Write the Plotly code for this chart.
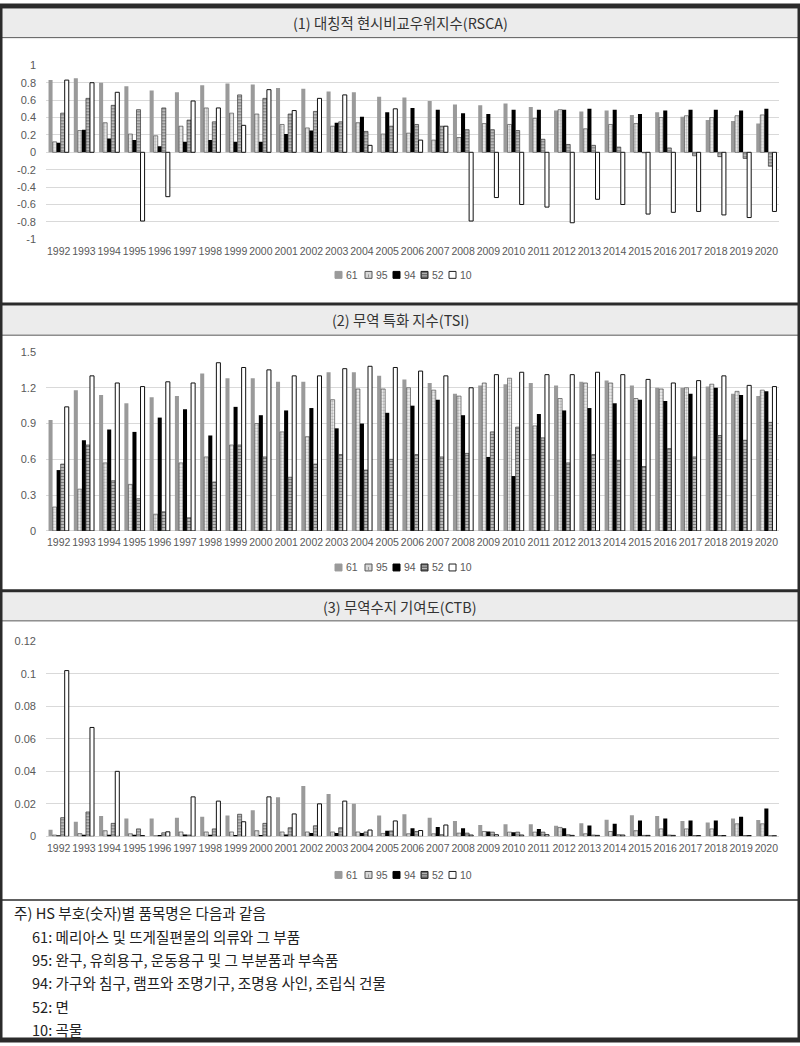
import plotly.graph_objects as go

# ---------------- data ----------------
YEARS = ["1992", "1993", "1994", "1995", "1996", "1997", "1998", "1999", "2000",
         "2001", "2002", "2003", "2004", "2005", "2006", "2007", "2008", "2009",
         "2010", "2011", "2012", "2013", "2014", "2015", "2016", "2017", "2018",
         "2019", "2020"]
SERIES_NAMES = ["61", "95", "94", "52", "10"]

RSCA_61 = [0.83, 0.85, 0.80, 0.76, 0.71, 0.69, 0.77, 0.79, 0.78, 0.74, 0.73, 0.70, 0.69, 0.64,
           0.63, 0.59, 0.55, 0.54, 0.56, 0.52, 0.48, 0.47, 0.48, 0.43, 0.46, 0.41, 0.37, 0.36, 0.33]
RSCA_95 = [0.12, 0.25, 0.34, 0.21, 0.19, 0.30, 0.51, 0.45, 0.44, 0.32, 0.28, 0.30, 0.34, 0.21,
           0.22, 0.14, 0.17, 0.33, 0.32, 0.39, 0.49, 0.27, 0.32, 0.33, 0.40, 0.42, 0.40, 0.42, 0.43]
RSCA_94 = [0.11, 0.26, 0.16, 0.14, 0.07, 0.12, 0.14, 0.12, 0.12, 0.21, 0.25, 0.34, 0.41, 0.46,
           0.51, 0.49, 0.45, 0.44, 0.49, 0.49, 0.49, 0.50, 0.49, 0.44, 0.48, 0.49, 0.49, 0.48, 0.50]
RSCA_52 = [0.45, 0.62, 0.54, 0.49, 0.51, 0.37, 0.35, 0.66, 0.62, 0.44, 0.47, 0.35, 0.24, 0.30,
           0.32, 0.30, 0.26, 0.26, 0.25, 0.15, 0.09, 0.08, 0.06, -0.005, 0.05, -0.04, -0.05, -0.07, -0.16]
RSCA_10 = [0.83, 0.80, 0.69, -0.79, -0.51, 0.59, 0.51, 0.31, 0.72, 0.48, 0.62, 0.66, 0.08, 0.50,
           0.14, 0.30, -0.79, -0.52, -0.60, -0.63, -0.81, -0.54, -0.60, -0.71, -0.69, -0.68, -0.72, -0.75, -0.68]

TSI_61 = [0.93, 1.18, 1.14, 1.07, 1.12, 1.13, 1.32, 1.28, 1.28, 1.25, 1.25, 1.33, 1.33, 1.30,
          1.27, 1.24, 1.15, 1.22, 1.23, 1.24, 1.22, 1.25, 1.26, 1.22, 1.20, 1.20, 1.21, 1.15, 1.13]
TSI_95 = [0.20, 0.35, 0.57, 0.39, 0.14, 0.57, 0.62, 0.72, 0.90, 0.83, 0.79, 1.10, 1.19, 1.19,
          1.20, 1.18, 1.13, 1.24, 1.28, 0.88, 1.11, 1.24, 1.24, 1.11, 1.19, 1.20, 1.23, 1.17, 1.18]
TSI_94 = [0.51, 0.76, 0.85, 0.83, 0.95, 1.02, 0.80, 1.04, 0.97, 1.01, 1.03, 0.86, 0.90, 0.99,
          1.05, 1.10, 0.97, 0.62, 0.46, 0.98, 1.01, 1.03, 1.07, 1.10, 1.09, 1.15, 1.20, 1.14, 1.17]
TSI_52 = [0.56, 0.72, 0.42, 0.27, 0.16, 0.11, 0.41, 0.72, 0.62, 0.45, 0.56, 0.64, 0.51, 0.60,
          0.64, 0.62, 0.65, 0.83, 0.87, 0.78, 0.57, 0.64, 0.59, 0.54, 0.69, 0.62, 0.80, 0.76, 0.91]
TSI_10 = [1.04, 1.30, 1.24, 1.21, 1.25, 1.24, 1.41, 1.37, 1.35, 1.30, 1.30, 1.36, 1.38, 1.37,
          1.34, 1.30, 1.20, 1.31, 1.33, 1.31, 1.31, 1.33, 1.31, 1.27, 1.24, 1.26, 1.30, 1.22, 1.21]

CTB_61 = [0.004, 0.009, 0.0126, 0.011, 0.011, 0.0115, 0.012, 0.0128, 0.016, 0.024, 0.031, 0.026,
          0.020, 0.0128, 0.0136, 0.0115, 0.0095, 0.007, 0.0075, 0.0075, 0.0065, 0.008, 0.0103,
          0.013, 0.0126, 0.0095, 0.0085, 0.011, 0.010]
CTB_95 = [0.0008, 0.0017, 0.0035, 0.0016, 0.0004, 0.0027, 0.0027, 0.0027, 0.0035, 0.0027, 0.0027,
          0.0027, 0.0027, 0.0018, 0.0016, 0.0016, 0.002, 0.003, 0.0026, 0.0026, 0.0055, 0.0016,
          0.003, 0.0035, 0.0046, 0.0046, 0.0046, 0.0077, 0.0077]
CTB_94 = [0.0003, 0.001, 0.001, 0.001, 0.0008, 0.0012, 0.001, 0.0008, 0.0008, 0.0012, 0.002, 0.002,
          0.002, 0.0035, 0.005, 0.0057, 0.005, 0.003, 0.0026, 0.0046, 0.005, 0.0067, 0.0077,
          0.0097, 0.011, 0.0097, 0.0097, 0.012, 0.0172]
CTB_52 = [0.0115, 0.015, 0.008, 0.0046, 0.0022, 0.0008, 0.0046, 0.0136, 0.008, 0.0053, 0.0065,
          0.0053, 0.0027, 0.0033, 0.003, 0.001, 0.002, 0.0026, 0.0026, 0.0026, 0.001, 0.0008,
          0.001, 0.0006, 0.0008, 0.0005, 0.0005, 0.0005, 0.0004]
CTB_10 = [0.102, 0.067, 0.040, 0.0005, 0.0028, 0.0243, 0.0217, 0.009, 0.0243, 0.0138, 0.020,
          0.0217, 0.0039, 0.0095, 0.0036, 0.007, 0.0008, 0.001, 0.0008, 0.001, 0.0006, 0.0006,
          0.0008, 0.0006, 0.0006, 0.0005, 0.0005, 0.0005, 0.0004]

RSCA_TICKS = [-1, -0.8, -0.6, -0.4, -0.2, 0, 0.2, 0.4, 0.6, 0.8, 1]
RSCA_TICK_LABELS = ["-1", "-0.8", "-0.6", "-0.4", "-0.2", "0", "0.2", "0.4", "0.6", "0.8", "1"]
TSI_TICKS = [0, 0.3, 0.6, 0.9, 1.2, 1.5]
TSI_TICK_LABELS = ["0", "0.3", "0.6", "0.9", "1.2", "1.5"]
CTB_TICKS = [0, 0.02, 0.04, 0.06, 0.08, 0.1, 0.12]
CTB_TICK_LABELS = ["0", "0.02", "0.04", "0.06", "0.08", "0.1", "0.12"]

PANEL_TITLES = ["(1) 대칭적 현시비교우위지수(RSCA)", "(2) 무역 특화 지수(TSI)", "(3) 무역수지 기여도(CTB)"]
NOTE_LINES = ["주) HS 부호(숫자)별 품목명은 다음과 같음",
              "61: 메리아스 및 뜨게질편물의 의류와 그 부품",
              "95: 완구, 유희용구, 운동용구 및 그 부분품과 부속품",
              "94: 가구와 침구, 램프와 조명기구, 조명용 사인, 조립식 건물",
              "52: 면",
              "10: 곡물"]

# ---------------- styling ----------------
W, H = 800, 1046


def px_x(x):
    return x / W


def px_y(y):
    return 1 - y / H


STYLES = {
    "61": dict(color="#9a9a9a", line=dict(width=0)),
    "95": dict(color="#ffffff", line=dict(color="#505050", width=0.7),
               pattern=dict(shape=".", fgcolor="#808080", bgcolor="#f2f2f2", size=3, solidity=0.45)),
    "94": dict(color="#000000", line=dict(width=0)),
    "52": dict(color="#bbbbbb", line=dict(color="#333333", width=0.7),
               pattern=dict(shape="-", fgcolor="#303030", bgcolor="#c8c8c8", size=3, solidity=0.45)),
    "10": dict(color="#ffffff", line=dict(color="#111111", width=1)),
}
LEGEND_KEYS = {
    "61": ("#9a9a9a", "#9a9a9a"),
    "95": ("#d8d8d8", "#555555"),
    "94": ("#000000", "#000000"),
    "52": ("#6a6a6a", "#222222"),
    "10": ("#ffffff", "#222222"),
}
LEGEND_X = [335, 365, 393, 421, 449]   # left edge of each key, px

TICK_FONT = dict(family="Liberation Sans, Arial, sans-serif", size=10.5, color="#595959")
KFONT = "Noto Sans CJK KR, Noto Sans, sans-serif"

panels = [
    dict(data=[RSCA_61, RSCA_95, RSCA_94, RSCA_52, RSCA_10], top=60, bottom=236, rng=[-1, 1],
         ticks=RSCA_TICKS, labels=RSCA_TICK_LABELS, legend_y=272, title_y=17),
    dict(data=[TSI_61, TSI_95, TSI_94, TSI_52, TSI_10], top=350, bottom=531, rng=[0, 1.5],
         ticks=TSI_TICKS, labels=TSI_TICK_LABELS, legend_y=568, title_y=317),
    dict(data=[CTB_61, CTB_95, CTB_94, CTB_52, CTB_10], top=642.7, bottom=840, rng=[0, 0.12],
         ticks=CTB_TICKS, labels=CTB_TICK_LABELS, legend_y=879, title_y=607),
]

fig = go.Figure()
layout = dict(
    width=W, height=H, margin=dict(l=0, r=0, t=0, b=0),
    paper_bgcolor="white", plot_bgcolor="white",
    barmode="group", bargap=0.2, bargroupgap=0.0,
    showlegend=False,
)

for i, p in enumerate(panels):
    sfx = "" if i == 0 else str(i + 1)
    xa, ya = "x" + sfx, "y" + sfx
    for name, vals in zip(SERIES_NAMES, p["data"]):
        fig.add_trace(go.Bar(x=YEARS, y=vals, name=name, marker=STYLES[name],
                             xaxis=xa, yaxis=ya, hoverinfo="x+y+name"))
    layout["xaxis" + sfx] = dict(
        domain=[px_x(46), px_x(779)], anchor=ya, type="category", range=[-0.5, 28.5],
        showgrid=False, showline=False, zeroline=False, ticks="", tickangle=0,
        tickfont=TICK_FONT, ticklabelstandoff=4, fixedrange=True)
    layout["yaxis" + sfx] = dict(
        domain=[px_y(p["bottom"]), px_y(p["top"])], anchor=xa, range=p["rng"],
        tickvals=p["ticks"], ticktext=p["labels"], showgrid=True, gridcolor="#d9d9d9",
        gridwidth=1, zeroline=True, zerolinecolor="#d9d9d9", zerolinewidth=1,
        showline=False, ticks="", tickfont=dict(TICK_FONT, size=11), ticklabelstandoff=9,
        fixedrange=True)

fig.update_layout(**layout)

shapes = []
annotations = []
title_bars = [(3, 32), (303, 333), (593, 622)]
for (y0, y1) in title_bars:
    shapes.append(dict(type="rect", xref="paper", yref="paper", x0=0, x1=1,
                       y0=px_y(y1), y1=px_y(y0), fillcolor="#ececec", line=dict(width=0),
                       layer="below"))
    shapes.append(dict(type="line", xref="paper", yref="paper", x0=0, x1=1,
                       y0=px_y(y1), y1=px_y(y1), line=dict(color="#5a5a5a", width=1)))
for y in [301.5, 591.5]:
    shapes.append(dict(type="line", xref="paper", yref="paper", x0=0, x1=1,
                       y0=px_y(y), y1=px_y(y), line=dict(color="#2b2b2b", width=3)))
shapes.append(dict(type="line", xref="paper", yref="paper", x0=0, x1=1,
                   y0=px_y(904.5), y1=px_y(904.5), line=dict(color="#2b2b2b", width=1.5)))
shapes.append(dict(type="rect", xref="paper", yref="paper", x0=0, x1=1, y0=0, y1=1,
                   line=dict(color="#2b2b2b", width=5), fillcolor="rgba(0,0,0,0)"))

KEY = 7
for p in panels:
    ly = p["legend_y"]
    for name, lx in zip(SERIES_NAMES, LEGEND_X):
        fill, outline = LEGEND_KEYS[name]
        shapes.append(dict(type="rect", xref="paper", yref="paper",
                           x0=px_x(lx), x1=px_x(lx + KEY),
                           y0=px_y(ly + KEY / 2), y1=px_y(ly - KEY / 2),
                           fillcolor=fill, line=dict(color=outline, width=1)))
        if name == "52":
            for dy in (-1.5, 1.0):
                shapes.append(dict(type="line", xref="paper", yref="paper",
                                   x0=px_x(lx + 1), x1=px_x(lx + KEY - 1),
                                   y0=px_y(ly + dy), y1=px_y(ly + dy),
                                   line=dict(color="#d0d0d0", width=0.8)))
        if name == "95":
            shapes.append(dict(type="line", xref="paper", yref="paper",
                               x0=px_x(lx + KEY / 2), x1=px_x(lx + KEY / 2),
                               y0=px_y(ly + 2.5), y1=px_y(ly - 2.5),
                               line=dict(color="#888888", width=0.8, dash="dot")))
        annotations.append(dict(text=name, xref="paper", yref="paper",
                                x=px_x(lx + KEY + 2), y=px_y(ly), xanchor="left",
                                yanchor="middle", showarrow=False,
                                font=dict(TICK_FONT, size=10.5)))

for p, t in zip(panels, PANEL_TITLES):
    annotations.append(dict(text=t, xref="paper", yref="paper", x=0.5, y=px_y(p["title_y"]),
                            xanchor="center", yanchor="middle", showarrow=False,
                            font=dict(family=KFONT, size=14.4, color="#333333")))

note_y = [917, 941, 965, 988, 1012, 1035]
for j, (line, y) in enumerate(zip(NOTE_LINES, note_y)):
    annotations.append(dict(text=line, xref="paper", yref="paper",
                            x=px_x(12 if j == 0 else 30), y=px_y(y),
                            xanchor="left", yanchor="middle", showarrow=False,
                            font=dict(family=KFONT, size=14.6, color="#222222")))

fig.update_layout(shapes=shapes, annotations=annotations)

# remove the default page margin so the 800x1046 figure fills the window exactly
POST = ("document.documentElement.style.margin='0';document.documentElement.style.padding='0';"
        "document.body.style.margin='0';document.body.style.padding='0';"
        "document.body.style.overflow='hidden';")
fig.write_html("out.html", post_script=POST)
